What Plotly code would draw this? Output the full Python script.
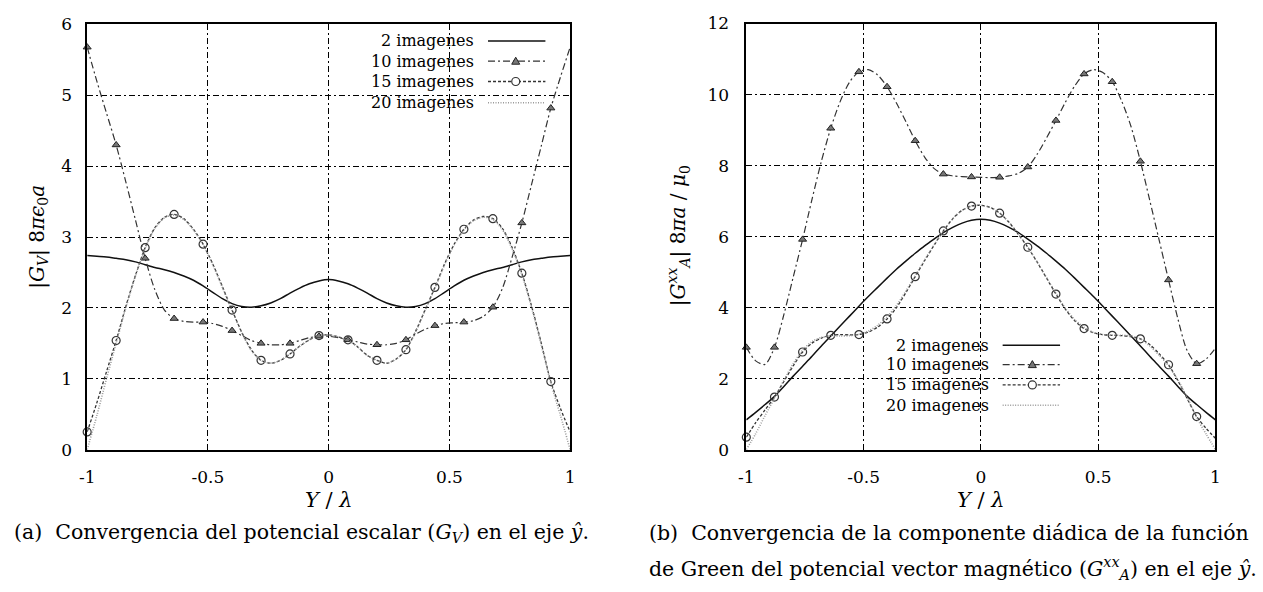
import plotly.graph_objects as go

W, H = 1263, 592

# ---------------- data ----------------
X = [-1.00, -0.96, -0.92, -0.88, -0.84, -0.80, -0.76, -0.72, -0.68, -0.64,
     -0.60, -0.56, -0.52, -0.48, -0.44, -0.40, -0.36, -0.32, -0.28, -0.24,
     -0.20, -0.16, -0.12, -0.08, -0.04, 0.00, 0.04, 0.08, 0.12, 0.16,
     0.20, 0.24, 0.28, 0.32, 0.36, 0.40, 0.44, 0.48, 0.52, 0.56,
     0.60, 0.64, 0.68, 0.72, 0.76, 0.80, 0.84, 0.88, 0.92, 0.96, 1.00]

SERIES_NAMES = ["2 imagenes", "10 imagenes", "15 imagenes", "20 imagenes"]

# Panel (a): |G_V| 8 pi eps0 a
GV_2 = [2.74, 2.73, 2.72, 2.70, 2.68, 2.65, 2.61, 2.57, 2.54, 2.50,
        2.45, 2.39, 2.31, 2.22, 2.13, 2.06, 2.02, 2.01, 2.03, 2.07,
        2.13, 2.21, 2.28, 2.34, 2.38, 2.40, 2.38, 2.34, 2.28, 2.21,
        2.13, 2.07, 2.03, 2.01, 2.02, 2.06, 2.13, 2.22, 2.31, 2.39,
        2.45, 2.50, 2.54, 2.57, 2.61, 2.65, 2.68, 2.70, 2.72, 2.73, 2.74]
GV_10 = [5.68, 5.20, 4.75, 4.30, 3.78, 3.24, 2.70, 2.26, 1.97, 1.85,
         1.81, 1.80, 1.80, 1.78, 1.74, 1.68, 1.61, 1.54, 1.50, 1.48,
         1.48, 1.50, 1.54, 1.58, 1.60, 1.60, 1.58, 1.55, 1.52, 1.49,
         1.48, 1.48, 1.50, 1.55, 1.63, 1.70, 1.75, 1.78, 1.79, 1.80,
         1.82, 1.88, 2.01, 2.28, 2.72, 3.20, 3.74, 4.28, 4.82, 5.26, 5.68]
GV_15 = [0.25, 0.66, 1.10, 1.54, 2.02, 2.46, 2.85, 3.13, 3.28, 3.32,
         3.26, 3.11, 2.90, 2.62, 2.30, 1.97, 1.66, 1.41, 1.26, 1.22,
         1.26, 1.35, 1.46, 1.55, 1.61, 1.62, 1.59, 1.55, 1.45, 1.33,
         1.26, 1.22, 1.28, 1.41, 1.67, 1.98, 2.29, 2.62, 2.90, 3.11,
         3.24, 3.29, 3.26, 3.12, 2.85, 2.49, 2.03, 1.51, 0.96, 0.58, 0.25]
GV_20 = [0.00, 0.48, 1.00, 1.50, 2.00, 2.45, 2.84, 3.12, 3.27, 3.31,
         3.25, 3.10, 2.89, 2.61, 2.29, 1.96, 1.65, 1.40, 1.26, 1.22,
         1.26, 1.35, 1.46, 1.55, 1.61, 1.62, 1.59, 1.54, 1.45, 1.33,
         1.26, 1.22, 1.28, 1.41, 1.66, 1.97, 2.28, 2.61, 2.89, 3.10,
         3.23, 3.28, 3.25, 3.10, 2.83, 2.47, 2.01, 1.48, 0.94, 0.48, 0.00]

# Panel (b): |G_A^xx| 8 pi a / mu0
GA_2 = [0.84, 1.05, 1.27, 1.50, 1.78, 2.07, 2.35, 2.63, 2.92, 3.20,
        3.48, 3.76, 4.04, 4.31, 4.57, 4.83, 5.08, 5.31, 5.53, 5.74,
        5.93, 6.11, 6.26, 6.38, 6.46, 6.49, 6.46, 6.38, 6.26, 6.11,
        5.93, 5.74, 5.53, 5.31, 5.08, 4.83, 4.57, 4.31, 4.04, 3.76,
        3.48, 3.20, 2.92, 2.63, 2.35, 2.07, 1.78, 1.50, 1.27, 1.05, 0.84]
GA_10 = [2.88, 2.50, 2.40, 2.88, 3.80, 4.86, 5.92, 7.05, 8.12, 9.05,
         9.80, 10.35, 10.64, 10.70, 10.55, 10.22, 9.76, 9.24, 8.70, 8.24,
         7.92, 7.76, 7.71, 7.69, 7.68, 7.67, 7.66, 7.67, 7.71, 7.78,
         7.96, 8.32, 8.78, 9.27, 9.78, 10.24, 10.58, 10.70, 10.62, 10.36,
         9.82, 9.10, 8.12, 7.02, 5.90, 4.78, 3.68, 2.78, 2.42, 2.55, 2.86]
GA_15 = [0.35, 0.76, 1.12, 1.48, 1.92, 2.36, 2.75, 3.00, 3.14, 3.22,
         3.24, 3.23, 3.24, 3.31, 3.45, 3.68, 4.00, 4.42, 4.87, 5.32,
         5.75, 6.16, 6.50, 6.74, 6.86, 6.88, 6.82, 6.66, 6.40, 6.06,
         5.70, 5.28, 4.83, 4.38, 3.96, 3.63, 3.41, 3.29, 3.24, 3.22,
         3.21, 3.18, 3.12, 2.96, 2.70, 2.39, 1.94, 1.43, 0.93, 0.60, 0.32]
GA_20 = [0.00, 0.45, 0.96, 1.45, 1.95, 2.42, 2.80, 3.04, 3.16, 3.20,
         3.20, 3.21, 3.25, 3.34, 3.50, 3.74, 4.06, 4.46, 4.90, 5.34,
         5.76, 6.16, 6.50, 6.74, 6.86, 6.88, 6.82, 6.66, 6.40, 6.06,
         5.70, 5.28, 4.84, 4.40, 3.98, 3.66, 3.44, 3.30, 3.24, 3.22,
         3.22, 3.20, 3.12, 2.92, 2.66, 2.36, 1.96, 1.46, 0.90, 0.44, 0.00]

X_TICKS = [-1, -0.5, 0, 0.5, 1]
X_TICK_LABELS = ["-1", "-0.5", "0", "0.5", "1"]
Y_TICKS_A = [0, 1, 2, 3, 4, 5, 6]
Y_TICKS_B = [0, 2, 4, 6, 8, 10, 12]

# ---------------- styling ----------------
FONT = "'DejaVu Serif', 'Liberation Serif', serif"
STYLES = [
    dict(line=dict(color="#111111", width=1.5, dash="solid"), marker=None),
    dict(line=dict(color="#333333", width=1.2, dash="7px,3px,2px,3px"),
         marker=dict(symbol="triangle-up", size=7, color="#777777",
                     line=dict(color="#222222", width=1))),
    dict(line=dict(color="#333333", width=1.3, dash="3px,2px"),
         marker=dict(symbol="circle-open", size=8, color="#333333",
                     line=dict(color="#333333", width=1.2))),
    dict(line=dict(color="#9a9a9a", width=1.6, dash="1px,1.5px"), marker=None),
]
MARK_STEP = 3


def fx(p):
    return p / W


def fy(p):
    return 1 - p / H


fig = go.Figure()

panels = [("x", "y", [GV_2, GV_10, GV_15, GV_20]),
          ("x2", "y2", [GA_2, GA_10, GA_15, GA_20])]
for xa, ya, series in panels:
    for name, vals, st in zip(SERIES_NAMES, series, STYLES):
        fig.add_trace(go.Scatter(x=X, y=vals, mode="lines", name=name,
                                 line=dict(shape="spline", smoothing=0.8, **st["line"]),
                                 xaxis=xa, yaxis=ya, hoverinfo="skip"))
        if st["marker"] is not None:
            fig.add_trace(go.Scatter(x=X[::MARK_STEP], y=vals[::MARK_STEP], mode="markers",
                                     marker=st["marker"], cliponaxis=False,
                                     xaxis=xa, yaxis=ya, showlegend=False, hoverinfo="skip"))

axis_common = dict(showgrid=True, gridcolor="black", gridwidth=1,
                   griddash="6px,3px,2px,3px", showline=True, linecolor="black",
                   linewidth=1.5, mirror=True, zeroline=False, ticks="",
                   tickfont=dict(family=FONT, size=17, color="black"))

fig.update_layout(
    width=W, height=H, margin=dict(l=0, r=0, t=0, b=0),
    paper_bgcolor="white", plot_bgcolor="white", showlegend=False,
    xaxis=dict(domain=[fx(80), fx(568)], range=[-1, 1], tickvals=X_TICKS,
               ticktext=X_TICK_LABELS, anchor="y", ticklabelstandoff=11, **axis_common),
    yaxis=dict(domain=[fy(455), fy(15)], range=[0, 6], tickvals=Y_TICKS_A,
               anchor="x", ticklabelstandoff=10, **axis_common),
    xaxis2=dict(domain=[fx(746), fx(1220)], range=[-1, 1], tickvals=X_TICKS,
                ticktext=X_TICK_LABELS, anchor="y2", ticklabelstandoff=11, **axis_common),
    yaxis2=dict(domain=[fy(455), fy(14)], range=[0, 12], tickvals=Y_TICKS_B,
                anchor="x2", ticklabelstandoff=12, **axis_common),
)

shapes = []
annotations = []

# legend boxes (white, hide grid lines)
for (x0, x1, y0, y1) in [(333, 557, 18, 106), (855, 1077, 333, 421)]:
    shapes.append(dict(type="rect", xref="paper", yref="paper", x0=fx(x0), x1=fx(x1),
                       y0=fy(y1), y1=fy(y0), fillcolor="white", line=dict(width=0),
                       layer="between"))

legend_specs = [
    dict(text_right=473, rows=[32, 53, 74, 96], s0=485, s1=543, mk=513),
    dict(text_right=993, rows=[347, 367, 388, 409], s0=1005, s1=1063, mk=1035),
]
for spec in legend_specs:
    for name, row, st in zip(SERIES_NAMES, spec["rows"], STYLES):
        annotations.append(dict(x=fx(spec["text_right"]), y=fy(row), xref="paper", yref="paper",
                                xanchor="right", yanchor="middle", showarrow=False, text=name,
                                font=dict(family=FONT, size=16, color="black")))
        shapes.append(dict(type="line", xref="paper", yref="paper",
                           x0=fx(spec["s0"]), x1=fx(spec["s1"]), y0=fy(row), y1=fy(row),
                           line=st["line"], layer="above"))
        if st["marker"] is not None:
            if st["marker"]["symbol"].startswith("triangle"):
                shapes.append(dict(type="path", xref="paper", yref="paper",
                                   xsizemode="pixel", ysizemode="pixel",
                                   xanchor=fx(spec["mk"]), yanchor=fy(row),
                                   path="M -4,-3 L 4,-3 L 0,4 Z", fillcolor="#777777",
                                   line=dict(color="#222222", width=1), layer="above"))
            else:
                shapes.append(dict(type="circle", xref="paper", yref="paper",
                                   xsizemode="pixel", ysizemode="pixel",
                                   xanchor=fx(spec["mk"]), yanchor=fy(row),
                                   x0=-4, x1=4, y0=-4, y1=4, fillcolor="white",
                                   line=dict(color="#333333", width=1.2), layer="above"))

# axis titles
title_font = dict(family=FONT, size=21, color="black")
for xc in (324, 983):
    annotations.append(dict(x=fx(xc), y=fy(507), xref="paper", yref="paper", showarrow=False,
                            xanchor="center", yanchor="middle", text="<i>Y</i> / <i>λ</i>",
                            font=title_font))
annotations.append(dict(x=fx(30), y=fy(235), xref="paper", yref="paper", showarrow=False,
                        xanchor="center", yanchor="middle", textangle=-90,
                        text="|<i>G</i><sub><i>V</i></sub>| 8<i>πϵ</i><sub>0</sub><i>a</i>",
                        font=dict(family=FONT, size=20, color="black")))
annotations.append(dict(x=fx(677), y=fy(234), xref="paper", yref="paper", showarrow=False,
                        xanchor="center", yanchor="middle", textangle=-90,
                        text="|<i>G</i><sup><i>xx</i></sup><sub><i>A</i></sub>| 8<i>πa</i> / <i>μ</i><sub>0</sub>",
                        font=dict(family=FONT, size=20, color="black")))

# captions
cap_font = dict(family=FONT, size=20.5, color="black")
annotations.append(dict(x=fx(4), y=fy(541), xref="paper", yref="paper", showarrow=False,
                        xanchor="left", yanchor="middle", font=cap_font,
                        text="(a)  Convergencia del potencial escalar (<i>G<sub>V</sub></i>) en el eje <i>ŷ</i>."))
annotations.append(dict(x=fx(646), y=fy(541), xref="paper", yref="paper", showarrow=False,
                        xanchor="left", yanchor="middle", font=cap_font,
                        text="(b)  Convergencia de la componente diádica de la función"))
annotations.append(dict(x=fx(646), y=fy(578), xref="paper", yref="paper", showarrow=False,
                        xanchor="left", yanchor="middle", font=cap_font,
                        text="de Green del potencial vector magnético (<i>G</i><sup><i>xx</i></sup><sub><i>A</i></sub>) en el eje <i>ŷ</i>."))

fig.update_layout(shapes=shapes, annotations=annotations)

for arr in (GV_2, GV_10, GV_15, GV_20, GA_2, GA_10, GA_15, GA_20):
    assert len(arr) == len(X)

fig.write_html("out.html")
